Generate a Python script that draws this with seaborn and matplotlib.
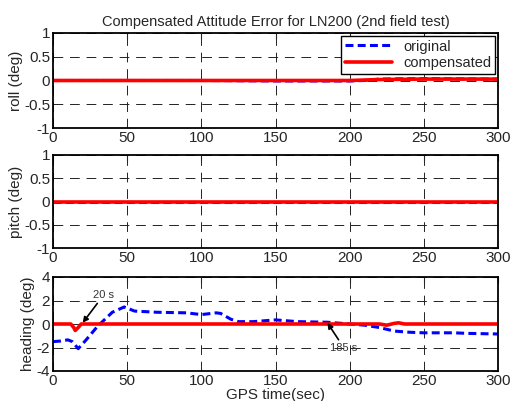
import numpy as np
import pandas as pd
import seaborn as sns
import matplotlib.pyplot as plt

# roll / pitch errors (deg), nearly flat
t_flat = [0, 50, 100, 150, 200, 210, 220, 250, 300]
roll_orig = [0.0, 0.0, 0.0, -0.01, -0.01, 0.0, 0.03, 0.04, 0.03]
roll_comp = [0.0, 0.0, 0.0, 0.0, 0.0, 0.01, 0.02, 0.03, 0.03]
pitch_orig = [0.0, 0.0, 0.0, 0.0, 0.0, 0.0, 0.0, 0.0, 0.0]
pitch_comp = [0.0, 0.0, 0.0, 0.0, 0.0, 0.0, 0.0, 0.0, 0.0]

# heading error (deg)
t_head_orig = [0, 5, 10, 13, 17, 22, 30, 40, 48, 55, 70, 90, 100, 110, 113,
               120, 125, 135, 150, 165, 185, 200, 210, 220, 230, 240, 250,
               270, 280, 300]
head_orig = [-1.5, -1.45, -1.35, -1.5, -2.1, -1.4, -0.2, 1.0, 1.45, 1.1, 1.0,
             0.95, 0.8, 0.95, 0.9, 0.4, 0.2, 0.2, 0.35, 0.2, 0.15, 0.0, -0.1,
             -0.3, -0.6, -0.7, -0.75, -0.75, -0.8, -0.85]
t_head_comp = [0, 12, 14, 15, 17, 19, 100, 220, 225, 230, 233, 237, 250, 300]
head_comp = [0.0, 0.0, -0.3, -0.55, -0.3, 0.0, 0.0, 0.0, -0.1, 0.05, 0.1,
             0.0, 0.0, 0.0]

sns.set_style('white')
plt.rcParams['font.family'] = ['Liberation Sans', 'DejaVu Sans']

fig = plt.figure(figsize=(5.11, 4.01), dpi=100)
W, H = 511, 401
boxes = [(53, 33, 128), (53, 155, 248), (53, 277, 371)]
axes = [fig.add_axes([l / W, (H - b) / H, 445 / W, (b - t) / H]) for l, t, b in boxes]

blue = dict(color='#0000ff', linewidth=2.2, linestyle=(0, (2.6, 1.4)))
red = dict(color='#ff0000', linewidth=2.6)

series = [
    (t_flat, roll_orig, t_flat, roll_comp, 'roll (deg)', (-1, 1), [-1, -0.5, 0, 0.5, 1]),
    (t_flat, pitch_orig, t_flat, pitch_comp, 'pitch (deg)', (-1, 1), [-1, -0.5, 0, 0.5, 1]),
    (t_head_orig, head_orig, t_head_comp, head_comp, 'heading (deg)', (-4, 4), [-4, -2, 0, 2, 4]),
]

for ax, (to, yo, tc, yc, lab, ylim, yt) in zip(axes, series):
    sns.lineplot(x=to, y=yo, ax=ax, label='original', **blue)
    sns.lineplot(x=tc, y=yc, ax=ax, label='compensated', **red)
    ax.set_xlim(0, 300)
    ax.set_ylim(*ylim)
    ax.set_xticks([0, 50, 100, 150, 200, 250, 300])
    ax.set_yticks(yt)
    ax.set_yticklabels([f'{v:g}' for v in yt])
    ax.grid(True, color='#222222', linestyle=(0, (10, 7)), linewidth=0.7)
    ax.tick_params(direction='in', labelsize=11, length=4, top=True, right=True,
                   pad=2)
    ax.set_ylabel(lab, fontsize=11, labelpad=1)
    for s in ax.spines.values():
        s.set_color('black')
        s.set_linewidth(1.3)
    if ax is not axes[0]:
        ax.get_legend().remove()

leg = axes[0].legend(loc='upper right', fontsize=10.5, frameon=True, fancybox=False,
                     edgecolor='black', framealpha=1, handlelength=3.2,
                     borderaxespad=0.2, borderpad=0.25, labelspacing=0.2)
leg.get_frame().set_linewidth(1.0)

axes[0].set_title('Compensated Attitude Error for LN200 (2nd field test)', fontsize=10.5, pad=5)
axes[2].set_xlabel('GPS time(sec)', fontsize=11, labelpad=0)

axes[2].annotate('20 s', xy=(20, 0.1), xytext=(27, 2.2), fontsize=8, color='#333333',
                 arrowprops=dict(arrowstyle='-|>', color='black', lw=1.2, shrinkA=0, shrinkB=0))
axes[2].annotate('185 s', xy=(185, 0.1), xytext=(187, -2.3), fontsize=8, color='#333333',
                 arrowprops=dict(arrowstyle='-|>', color='black', lw=1.2, shrinkA=0, shrinkB=0))

plt.savefig('out.png', dpi=100)
